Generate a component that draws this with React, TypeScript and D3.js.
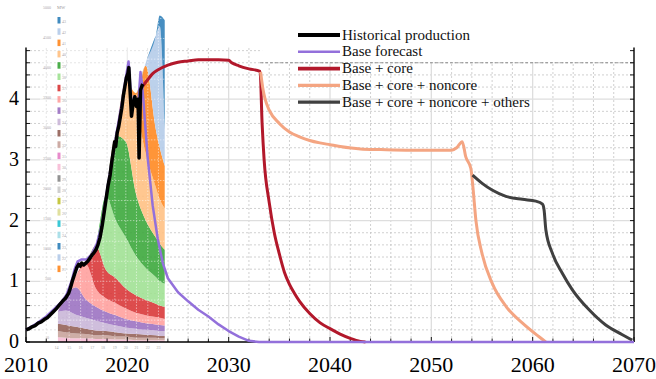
import React from 'react';
import * as d3 from 'd3';

// ---------- main series ----------
const histYears = [2010.0, 2010.3, 2010.6, 2010.9, 2011.2, 2011.5, 2011.8, 2012.1, 2012.4, 2012.7, 2013.0, 2013.3, 2013.6, 2013.9, 2014.2, 2014.4, 2014.6, 2014.8, 2015.0, 2015.2, 2015.35, 2015.5, 2015.7, 2015.9, 2016.1, 2016.3, 2016.5, 2016.7, 2016.9, 2017.1, 2017.3, 2017.5, 2017.7, 2017.9, 2018.1, 2018.3, 2018.45, 2018.6, 2018.75, 2018.85, 2019.0, 2019.15, 2019.3, 2019.45, 2019.6, 2019.75, 2019.9, 2020.05, 2020.15, 2020.25, 2020.41, 2020.55, 2020.74, 2020.9, 2021.06, 2021.16, 2021.3, 2021.4, 2021.52];
const histValues = [0.2, 0.22, 0.25, 0.27, 0.31, 0.33, 0.37, 0.4, 0.45, 0.5, 0.55, 0.61, 0.67, 0.72, 0.8, 0.9, 1.02, 1.12, 1.22, 1.28, 1.25, 1.3, 1.27, 1.3, 1.33, 1.38, 1.43, 1.47, 1.52, 1.6, 1.72, 1.9, 2.12, 2.35, 2.58, 2.75, 2.95, 3.12, 3.3, 3.22, 3.45, 3.55, 3.7, 3.85, 4.05, 4.2, 4.35, 4.42, 4.52, 4.2, 3.72, 3.9, 4.04, 3.88, 4.0, 3.03, 4.15, 4.2, 4.25];

const baseYears = [2010, 2011, 2012, 2013, 2013.5, 2014, 2014.5, 2014.8, 2015.1, 2015.5, 2016, 2016.5, 2017, 2017.5, 2018, 2018.5, 2019, 2019.5, 2019.8, 2020.12, 2020.3, 2020.45, 2020.7, 2020.9, 2021.1, 2021.3, 2021.45, 2021.6, 2021.8, 2022.0, 2022.5, 2023, 2023.5, 2024, 2025, 2026, 2027, 2028, 2029, 2030, 2031, 2032, 2033, 2070];
const baseValues = [0.2, 0.3, 0.42, 0.58, 0.66, 0.78, 1.0, 1.2, 1.33, 1.36, 1.36, 1.45, 1.62, 1.95, 2.5, 3.02, 3.5, 3.98, 4.3, 4.62, 4.2, 3.85, 4.05, 3.95, 3.98, 4.45, 4.25, 3.95, 3.5, 3.05, 2.25, 1.7, 1.3, 1.05, 0.82, 0.67, 0.53, 0.42, 0.29, 0.18, 0.09, 0.02, 0, 0];

const coreYears = [2021.45, 2022, 2022.5, 2023, 2024, 2025, 2026, 2027, 2028, 2029, 2030, 2030.3, 2031, 2032, 2033.1, 2033.3, 2033.5, 2034, 2034.5, 2035, 2035.5, 2036, 2036.5, 2037, 2038, 2039, 2040, 2041, 2042, 2043, 2043.5];
const coreValues = [4.2, 4.32, 4.42, 4.48, 4.56, 4.61, 4.63, 4.65, 4.65, 4.65, 4.64, 4.6, 4.55, 4.5, 4.46, 3.6, 3.0, 2.3, 1.8, 1.45, 1.15, 0.95, 0.8, 0.67, 0.47, 0.32, 0.22, 0.13, 0.06, 0.01, 0];

const noncoreYears = [2033.15, 2033.4, 2033.6, 2034, 2035, 2036, 2037, 2038, 2039, 2040, 2041, 2043, 2045, 2048, 2051, 2052, 2052.5, 2053.05, 2053.4, 2053.9, 2054.1, 2054.4, 2055, 2056, 2057.4, 2059, 2060.6, 2061.3];
const noncoreValues = [4.45, 4.15, 4.0, 3.82, 3.6, 3.46, 3.38, 3.32, 3.28, 3.25, 3.22, 3.18, 3.17, 3.16, 3.16, 3.16, 3.2, 3.3, 3.05, 2.86, 2.56, 2.0, 1.46, 0.97, 0.58, 0.31, 0.09, 0];

const othersYears = [2054.07, 2055.05, 2056.04, 2057.36, 2058.99, 2060.31, 2060.97, 2061.13, 2061.3, 2061.95, 2062.94, 2063.92, 2065.57, 2067.21, 2068.85, 2069.83];
const othersValues = [2.75, 2.61, 2.5, 2.4, 2.35, 2.32, 2.27, 2.17, 1.85, 1.46, 1.13, 0.86, 0.53, 0.28, 0.12, 0.03];

// ---------- inset (cohort stack) ----------
const stackYears = [2013.15, 2013.94, 2014.93, 2015.91, 2016.9, 2017.88, 2018.87, 2019.85, 2020.84, 2021.82, 2022.81, 2023.2, 2023.69];
const cohortKeys = ['k0', 'k1', 'k2', 'k3', 'k4', 'k5', 'k6', 'k7', 'k8', 'k9', 'k10', 'k11', 'k12'];
const cohortColors = ['#f7b6d2', '#c49c94', '#8c564b', '#c5b0d5', '#9467bd', '#ff9896', '#d62728', '#98df8a', '#2ca02c', '#ffbb78', '#ff7f0e', '#aec7e8', '#1f77b4'];
const cohort0 = [0.08, 0.07, 0.06, 0.06, 0.05, 0.05, 0.04, 0.04, 0.03, 0.03, 0.03, 0.03, 0.03];
const cohort1 = [0.10, 0.09, 0.08, 0.07, 0.06, 0.06, 0.05, 0.05, 0.04, 0.04, 0.04, 0.03, 0.03];
const cohort2 = [0.12, 0.12, 0.11, 0.09, 0.08, 0.07, 0.07, 0.05, 0.06, 0.05, 0.04, 0.04, 0.04];
const cohort3 = [0.20, 0.24, 0.20, 0.18, 0.16, 0.13, 0.11, 0.10, 0.09, 0.08, 0.08, 0.08, 0.08];
const cohort4 = [0, 0.24, 0.45, 0.30, 0.23, 0.19, 0.17, 0.14, 0.12, 0.11, 0.10, 0.10, 0.09];
const cohort5 = [0, 0, 0.20, 0.58, 0.30, 0.22, 0.20, 0.17, 0.14, 0.13, 0.12, 0.12, 0.11];
const cohort6 = [0, 0, 0, 0.02, 0.70, 0.47, 0.41, 0.33, 0.29, 0.25, 0.22, 0.20, 0.20];
const cohort7 = [0, 0, 0, 0, 0.02, 1.21, 0.95, 0.84, 0.65, 0.53, 0.44, 0.40, 0.38];
const cohort8 = [0, 0, 0, 0, 0, 0.05, 1.40, 1.58, 1.03, 0.78, 0.65, 0.62, 0.56];
const cohort9 = [0, 0, 0, 0, 0, 0, 0.05, 1.0, 1.40, 1.10, 0.83, 0.73, 0.68];
const cohort10 = [0, 0, 0, 0, 0, 0, 0, 0, 0.25, 1.45, 0.95, 0.85, 0.70];
const cohort11 = [0, 0, 0, 0, 0, 0, 0, 0, 0, 0.05, 1.55, 2.0, 0.60];
const cohort12 = [0, 0, 0, 0, 0, 0, 0, 0, 0, 0, 0, 0.18, 1.8];
const cohortValues = [cohort0, cohort1, cohort2, cohort3, cohort4, cohort5, cohort6, cohort7, cohort8, cohort9, cohort10, cohort11, cohort12];

const insetTickYears = [2013.02, 2014.26, 2015.39, 2016.53, 2017.6, 2018.77, 2019.85, 2020.9, 2022.02, 2023.07];
const insetTickLabels = ['14', '15', '16', '17', '18', '19', '20', '21', '22', '23'];
const insetGridValues = [0.36, 0.69, 1.0, 1.33, 1.66, 2.0, 2.33, 2.66, 3.0, 3.33, 3.66, 4.0, 4.33, 4.66, 5.0, 5.33];
const insetLegendColors = ['#1f77b4', '#aec7e8', '#ff7f0e', '#ffbb78', '#2ca02c', '#98df8a', '#d62728', '#ff9896', '#9467bd', '#c5b0d5', '#8c564b', '#c49c94', '#e377c2', '#f7b6d2', '#7f7f7f', '#c7c7c7', '#bcbd22', '#dbdb8d', '#17becf', '#9edae5', '#1f77b4', '#aec7e8', '#ff7f0e'];
const insetLegendLabels = ['43', '42', '41', '40', '39', '38', '37', '36', '35', '34', '33', '32', '31', '30', '29', '28', '27', '26', '25', '24', '23', '22', '21'];
const insetAxisLabels = ['5000', '4500', '4000', '3500', '3000', '2500', '2000', '1500', '1000', '500'];

// ---------- axes ----------
const xTickYears = [2010, 2020, 2030, 2040, 2050, 2060, 2070];
const yTickValues = [0, 1, 2, 3, 4];

const legendLabels = ['Historical production', 'Base forecast', 'Base + core', 'Base + core + noncore', 'Base + core + noncore + others'];
const legendColors = ['#000000', '#9370db', '#b2182b', '#f4a582', '#404040'];
const legendWidths = [4, 2.4, 3.6, 3.2, 3.2];

export default function App() {
  const W = 656, H = 379;
  const x = d3.scaleLinear().domain([2010, 2070]).range([26, 634]);
  const y = d3.scaleLinear().domain([0, 4.85]).range([342, 47.6]);
  const font = 'Liberation Serif, DejaVu Serif, serif';

  const pts = (xs: number[], vs: number[]) => xs.map((v, i) => [v, vs[i]] as [number, number]);
  const lineLin = d3.line<[number, number]>().x(d => x(d[0])).y(d => y(d[1]));
  const lineSm = d3.line<[number, number]>().x(d => x(d[0])).y(d => y(d[1])).curve(d3.curveMonotoneX);

  const rows = stackYears.map((yr, i) => {
    const r: any = { year: yr };
    cohortKeys.forEach((k, j) => { r[k] = cohortValues[j][i]; });
    return r;
  });
  const series = d3.stack<any>().keys(cohortKeys)(rows);
  const area = d3.area<any>().x(d => x(d.data.year)).y0(d => y(d[0])).y1(d => y(d[1])).curve(d3.curveMonotoneX);
  const topSeries = series[series.length - 1];
  const clipArea = d3.area<any>().x(d => x(d.data.year)).y0(() => y(0)).y1(d => y(d[1])).curve(d3.curveMonotoneX);

  const minorX = d3.range(2012, 2070, 2).filter(v => v % 10 !== 0);
  const minorY = d3.range(1, 25).map(i => i * 0.2).filter(v => Math.abs(v - Math.round(v)) > 1e-6);
  const majorX = [2020, 2030, 2040, 2050, 2060];
  const majorY = [1, 2, 3, 4];
  const allTicksY = d3.range(0, 25).map(i => i * 0.2);
  const allTicksX = d3.range(2010, 2071, 2);

  const insetX0 = x(stackYears[0]);
  const insetX1 = x(stackYears[stackYears.length - 1]);

  return (
    <svg width={W} height={H} style={{ position: 'fixed', left: 0, top: 0, background: '#fff', fontFamily: font }}>
      <defs>
        <clipPath id="stackclip"><path d={clipArea(topSeries) || ''} /></clipPath>
      </defs>
      <rect x={0} y={0} width={W} height={H} fill="#fff" />
      {/* grid */}
      {minorX.map(v => (
        <line key={'mx' + v} x1={x(v)} x2={x(v)} y1={y(0)} y2={y(4.85)} stroke="#c4c4c4" strokeWidth={0.8} strokeDasharray="2,2" />
      ))}
      {minorY.map(v => (
        <line key={'my' + v} x1={x(2010)} x2={x(2070)} y1={y(v)} y2={y(v)} stroke="#c4c4c4" strokeWidth={0.8} strokeDasharray="2,2" />
      ))}
      {majorX.map(v => (
        <line key={'MX' + v} x1={x(v)} x2={x(v)} y1={y(0)} y2={y(4.85)} stroke="#dedede" strokeWidth={1.3} />
      ))}
      {majorY.map(v => (
        <line key={'MY' + v} x1={x(2010)} x2={x(2070)} y1={y(v)} y2={y(v)} stroke="#dedede" strokeWidth={1.3} />
      ))}
      {/* white region behind legend top */}
      <rect x={x(2033.3)} y={40} width={x(2070) - x(2033.3) - 1} height={y(4.6) - 40 - 0.8} fill="#fff" />
      <line x1={x(2033.1)} x2={x(2070)} y1={y(4.6)} y2={y(4.6)} stroke="#777" strokeWidth={0.8} strokeDasharray="3,2" />

      {/* inset ghost panel */}
      <rect x={40} y={0} width={128} height={y(0) - 1} fill="#fff" opacity={0.45} />
      <g opacity={0.82}>
        {series.map((s, i) => (
          <path key={'st' + i} d={area(s) || ''} fill={cohortColors[i]} />
        ))}
      </g>
      <g clipPath="url(#stackclip)" opacity={0.55}>
        {insetGridValues.map(v => (
          <line key={'ig' + v} x1={insetX0} x2={insetX1} y1={y(v)} y2={y(v)} stroke="#fff" strokeWidth={0.9} strokeDasharray="1.5,1.5" />
        ))}
        {insetTickYears.map(v => (
          <line key={'igx' + v} x1={x(v)} x2={x(v)} y1={y(0)} y2={y(5.5)} stroke="#fff" strokeWidth={0.9} strokeDasharray="1.5,1.5" />
        ))}
      </g>
      {/* inset legend */}
      <text x={57} y={9} fontSize={4.5} fill="#999">MW</text>
      {insetLegendColors.map((c, i) => (
        <g key={'il' + i}>
          <rect x={57.5} y={17 + i * 11.3} width={3} height={6.5} fill={c} opacity={0.85} />
          <text x={62} y={22.5 + i * 11.3} fontSize={4} fill="#aaa">{insetLegendLabels[i]}</text>
        </g>
      ))}
      {insetAxisLabels.map((t, i) => (
        <text key={'ia' + i} x={51} y={8.5 + i * 30.2} fontSize={4} fill="#aaa" textAnchor="end">{t}</text>
      ))}
      <text x={49} y={339} fontSize={4} fill="#aaa" textAnchor="end">0</text>
      {insetTickYears.map((v, i) => (
        <text key={'it' + i} x={x(v)} y={349} fontSize={4} fill="#aaa" textAnchor="middle">{insetTickLabels[i]}</text>
      ))}

      {/* spines and ticks */}
      <line x1={x(2010)} x2={x(2010)} y1={y(4.85)} y2={y(0)} stroke="#000" strokeWidth={1.4} />
      <line x1={x(2070)} x2={x(2070)} y1={y(4.85)} y2={y(0)} stroke="#000" strokeWidth={1.4} />
      <line x1={x(2010)} x2={x(2070)} y1={y(0)} y2={y(0)} stroke="#000" strokeWidth={1.4} />
      {allTicksY.map(v => (
        <g key={'ty' + v}>
          <line x1={x(2010)} x2={x(2010) + 4} y1={y(v)} y2={y(v)} stroke="#000" strokeWidth={0.9} />
          <line x1={x(2070)} x2={x(2070) - 4} y1={y(v)} y2={y(v)} stroke="#000" strokeWidth={0.9} />
        </g>
      ))}
      {allTicksX.map(v => (
        <line key={'tx' + v} x1={x(v)} x2={x(v)} y1={y(0)} y2={y(0) - (v % 10 === 0 ? 5 : 3.5)} stroke="#000" strokeWidth={0.9} />
      ))}
      {yTickValues.map(v => (
        <text key={'yl' + v} x={19} y={y(v) + 6} fontSize={20} textAnchor="end" fill="#000">{v}</text>
      ))}
      {xTickYears.map(v => (
        <text key={'xl' + v} x={x(v)} y={372} fontSize={22} textAnchor="middle" fill="#000">{v}</text>
      ))}

      {/* lines */}
      <path d={lineSm(pts(coreYears, coreValues)) || ''} fill="none" stroke="#b2182b" strokeWidth={3} strokeLinejoin="round" />
      <path d={lineSm(pts(noncoreYears, noncoreValues)) || ''} fill="none" stroke="#f4a582" strokeWidth={3} strokeLinejoin="round" />
      <path d={lineSm(pts(othersYears, othersValues)) || ''} fill="none" stroke="#404040" strokeWidth={3} strokeLinejoin="round" />
      <path d={lineLin(pts(baseYears, baseValues)) || ''} fill="none" stroke="#9370db" strokeWidth={2.5} strokeLinejoin="round" />
      <path d={lineLin(pts(histYears, histValues)) || ''} fill="none" stroke="#000" strokeWidth={3.5} strokeLinejoin="round" />

      {/* legend */}
      {legendLabels.map((t, i) => (
        <g key={'lg' + i}>
          <line x1={298} x2={340} y1={35 + i * 16.8} y2={35 + i * 16.8} stroke={legendColors[i]} strokeWidth={legendWidths[i]} />
          <text x={342} y={39.5 + i * 16.8} fontSize={15} fill="#111">{t}</text>
        </g>
      ))}
    </svg>
  );
}
